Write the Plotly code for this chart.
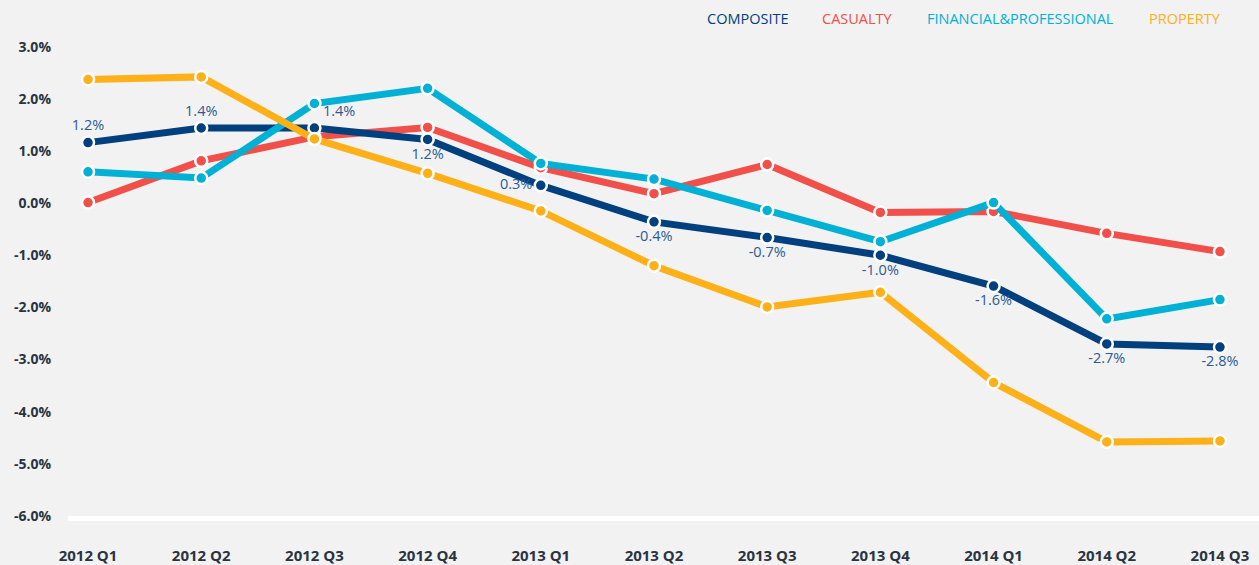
import plotly.graph_objects as go

quarters = ["2012 Q1", "2012 Q2", "2012 Q3", "2012 Q4", "2013 Q1", "2013 Q2",
            "2013 Q3", "2013 Q4", "2014 Q1", "2014 Q2", "2014 Q3"]
composite = [1.16, 1.44, 1.44, 1.22, 0.34, -0.36, -0.66, -1.0, -1.59, -2.7, -2.76]
casualty = [0.01, 0.81, 1.27, 1.45, 0.68, 0.18, 0.74, -0.18, -0.16, -0.58, -0.93]
financial = [0.60, 0.48, 1.91, 2.20, 0.76, 0.46, -0.14, -0.74, 0.01, -2.22, -1.85]
property_ = [2.37, 2.42, 1.23, 0.57, -0.15, -1.20, -1.99, -1.71, -3.44, -4.58, -4.56]
y_ticks = [-6, -5, -4, -3, -2, -1, 0, 1, 2, 3]
y_labels = [f"{v:.1f}%" for v in y_ticks]

names = ["COMPOSITE", "CASUALTY", "FINANCIAL&PROFESSIONAL", "PROPERTY"]
colors = {"COMPOSITE": "#00407f", "CASUALTY": "#f04f4a",
          "FINANCIAL&PROFESSIONAL": "#00b1d5", "PROPERTY": "#fdb018"}
series = {"COMPOSITE": composite, "CASUALTY": casualty,
          "FINANCIAL&PROFESSIONAL": financial, "PROPERTY": property_}

x_idx = list(range(len(quarters)))
fig = go.Figure()

comp_pos = ["top center", "top center", "top right", "bottom center", "middle left"] + \
           ["bottom center"] * 6

for name in ["CASUALTY", "COMPOSITE", "FINANCIAL&PROFESSIONAL", "PROPERTY"]:
    if name == "COMPOSITE":
        kw = dict(mode="lines+markers+text", texttemplate="%{y:.1f}%",
                  textposition=comp_pos,
                  textfont=dict(family="Open Sans", size=14.5, color="#2c5a94"))
    else:
        kw = dict(mode="lines+markers")
    fig.add_trace(go.Scatter(
        x=x_idx, y=series[name], name=name,
        line=dict(color=colors[name], width=7),
        marker=dict(size=12, color=colors[name], line=dict(color="white", width=2.5)),
        hoverinfo="skip", showlegend=False, cliponaxis=False, **kw))

# legend as coloured text
L, R = 68, 1259
leg_px = {"COMPOSITE": 748, "CASUALTY": 857, "FINANCIAL&PROFESSIONAL": 1020, "PROPERTY": 1185}
for name in names:
    fig.add_annotation(x=(leg_px[name] - L) / (R - L), y=1.0, xref="paper", yref="paper",
                       yanchor="bottom", xanchor="center", showarrow=False, yshift=1,
                       text=name, font=dict(family="Open Sans", size=14.5, color=colors[name]))

fig.update_layout(
    width=1259, height=565,
    margin=dict(l=68, r=0, t=31, b=43),
    paper_bgcolor="#f2f2f2", plot_bgcolor="#f2f2f2",
    xaxis=dict(range=[-0.177, 10.345], tickvals=x_idx, ticktext=quarters,
               showgrid=False, zeroline=False, showline=True, linecolor="white",
               linewidth=5, ticks="", ticklabelstandoff=22,
               tickfont=dict(family="Open Sans", size=15, color="#2a3441", weight=700)),
    yaxis=dict(range=[-6, 3.3], tickvals=y_ticks, ticktext=y_labels,
               showgrid=False, zeroline=False, showline=False, ticks="",
               ticklabelstandoff=16,
               tickfont=dict(family="Open Sans", size=14, color="#2a3441", weight=700)),
)

fig.write_html("out.html", config={"displayModeBar": False},
               post_script="document.body.style.margin='0';document.body.style.overflow='hidden';")
